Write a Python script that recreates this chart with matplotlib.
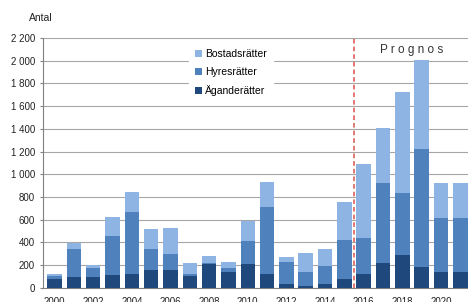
# -*- coding: utf-8 -*-
import numpy as np
import matplotlib.pyplot as plt
from matplotlib.ticker import FuncFormatter

plt.rcParams['font.family'] = ['Liberation Sans', 'DejaVu Sans']

# data
years = list(range(2000, 2022))
agande = [80, 97, 97, 112, 120, 156, 156, 103, 210, 135, 206, 118, 32, 18, 32, 74,
          118, 220, 291, 185, 141, 141]
hyres = [22, 244, 73, 344, 544, 182, 141, 17, 8, 35, 209, 596, 194, 123, 162, 346,
         317, 700, 547, 1035, 471, 471]
bostad = [18, 56, 30, 170, 177, 177, 226, 95, 62, 59, 176, 218, 47, 162, 147, 333,
          653, 486, 885, 788, 314, 314]
tick_years = [2000, 2002, 2004, 2006, 2008, 2010, 2012, 2014, 2016, 2018, 2020]

c_light = '#8db4e2'
c_mid = '#4f81bd'
c_dark = '#1f497d'

fig = plt.figure(figsize=(4.68, 3.02), dpi=100)
ax = fig.add_axes([43 / 468, 14.3 / 302, 425 / 468, 249.7 / 302])

x = np.arange(len(years))
a = np.array(agande)
h = np.array(hyres)
b = np.array(bostad)
w = 0.75
ax.bar(x, a, w, color=c_dark, label='Äganderätter', zorder=3)
ax.bar(x, h, w, bottom=a, color=c_mid, label='Hyresrätter', zorder=3)
ax.bar(x, b, w, bottom=a + h, color=c_light, label='Bostadsrätter', zorder=3)

ax.set_xlim(-0.6, 21.4)
ax.set_ylim(0, 2200)
ax.set_yticks(range(0, 2201, 200))
ax.yaxis.set_major_formatter(FuncFormatter(lambda v, p: f'{int(v):,}'.replace(',', ' ')))
ax.set_xticks([years.index(t) for t in tick_years])
ax.set_xticklabels([str(t) for t in tick_years])

ax.grid(axis='y', color='#a6a6a6', linewidth=0.8, zorder=0)
ax.set_axisbelow(True)
for s in ['top', 'right']:
    ax.spines[s].set_visible(False)
ax.spines['left'].set_color('#808080')
ax.spines['bottom'].set_color('#808080')
ax.tick_params(axis='y', length=2.2, width=0.8, color='#808080', pad=3.6,
               labelsize=7, labelcolor='#222222')
ax.tick_params(axis='x', length=0, pad=6.5, labelsize=7, labelcolor='#222222')

# forecast divider
ax.axvline(15.5, color='#d9534f', linestyle=(0, (3, 2)), linewidth=1.1, zorder=4)
ax.text(18.5, 2096, 'P r o g n o s', ha='center', va='center', fontsize=8.5,
        color='#333333')

fig.text(29 / 468, 1 - 18 / 302, 'Antal', ha='left', va='center', fontsize=7.5,
         color='#222222')

handles, labels = ax.get_legend_handles_labels()
leg = ax.legend(handles[::-1], labels[::-1], loc='upper left',
                bbox_to_anchor=(184 / 468, 1 - 38 / 302), bbox_transform=fig.transFigure,
                fontsize=7.5, frameon=True, fancybox=False, edgecolor='white',
                framealpha=1, handlelength=0.65, handleheight=0.65, handletextpad=0.3,
                labelspacing=0.75, borderpad=0.6)
leg.set_zorder(6)

fig.savefig('out.png', dpi=100)
